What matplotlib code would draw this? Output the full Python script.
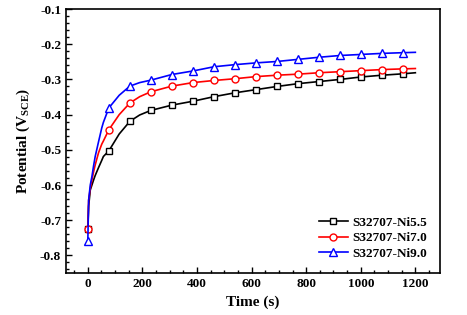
import matplotlib.pyplot as plt
from matplotlib.ticker import MultipleLocator

# sampled time points (s) and marker times
time_s = [0, 3, 9, 15, 21, 27, 39, 51, 57, 77, 115, 154, 190, 231, 308, 385,
          462, 539, 616, 693, 770, 847, 924, 1001, 1078, 1155, 1200]
marker_t = [0, 77, 154, 231, 308, 385, 462, 539, 616, 693, 770, 847, 924,
            1001, 1078, 1155]

ni55 = [-0.726, -0.660, -0.614, -0.600, -0.586, -0.573, -0.551, -0.530, -0.519,
        -0.503, -0.455, -0.419, -0.401, -0.388, -0.373, -0.362, -0.349, -0.338,
        -0.329, -0.320, -0.312, -0.306, -0.300, -0.293, -0.288, -0.284, -0.281]
ni70 = [-0.725, -0.643, -0.610, -0.586, -0.563, -0.543, -0.509, -0.484, -0.475,
        -0.443, -0.400, -0.367, -0.349, -0.335, -0.319, -0.309, -0.303, -0.298,
        -0.292, -0.288, -0.285, -0.281, -0.278, -0.275, -0.272, -0.270, -0.269]
ni90 = [-0.758, -0.643, -0.600, -0.576, -0.546, -0.519, -0.478, -0.438, -0.422,
        -0.381, -0.345, -0.319, -0.309, -0.302, -0.286, -0.276, -0.264, -0.258,
        -0.253, -0.249, -0.243, -0.237, -0.232, -0.229, -0.226, -0.224, -0.223]

labels = ['S32707-Ni5.5', 'S32707-Ni7.0', 'S32707-Ni9.0']
colors = ['black', 'red', 'blue']
markers = ['s', 'o', '^']

plt.rcParams['font.family'] = 'Liberation Serif'
plt.rcParams['font.weight'] = 'bold'
plt.rcParams['axes.unicode_minus'] = False
plt.rcParams['mathtext.fontset'] = 'custom'
plt.rcParams['mathtext.rm'] = 'Liberation Serif:bold'
plt.rcParams['mathtext.bf'] = 'Liberation Serif:bold'

fig = plt.figure(figsize=(4.67, 3.15), dpi=100)
ax = fig.add_axes([0.1413, 0.1333, 0.8007, 0.838])

idx = [time_s.index(m) for m in marker_t]
for y, lab, c, m in zip([ni55, ni70, ni90], labels, colors, markers):
    ax.plot(time_s, y, color=c, lw=1.2, marker=m, markevery=idx,
            markersize=5.5 if m == '^' else 5, markerfacecolor='white',
            markeredgecolor=c, markeredgewidth=1, label=lab)

ax.set_xlim(-80, 1290)
ax.set_ylim(-0.85, -0.1)
ax.xaxis.set_major_locator(MultipleLocator(200))
ax.xaxis.set_minor_locator(MultipleLocator(50))
ax.yaxis.set_major_locator(MultipleLocator(0.1))
ax.yaxis.set_minor_locator(MultipleLocator(0.02))
ax.tick_params(which='both', direction='in', top=False, right=False,
               labelsize=9.5, width=1)
ax.tick_params(which='major', length=4)
ax.tick_params(which='minor', length=2)
for s in ax.spines.values():
    s.set_linewidth(1.2)

ax.set_xlabel('Time (s)', fontsize=11, fontweight='bold', labelpad=4)
ax.set_ylabel(r'Potential (V$_{\mathrm{SCE}}$)', fontsize=11, fontweight='bold',
              labelpad=6)

ax.legend(loc='lower right', frameon=False, fontsize=9.5, handlelength=2.2,
          handletextpad=0.3, labelspacing=0.25, borderaxespad=0.6)

fig.savefig('out.png', dpi=100)
